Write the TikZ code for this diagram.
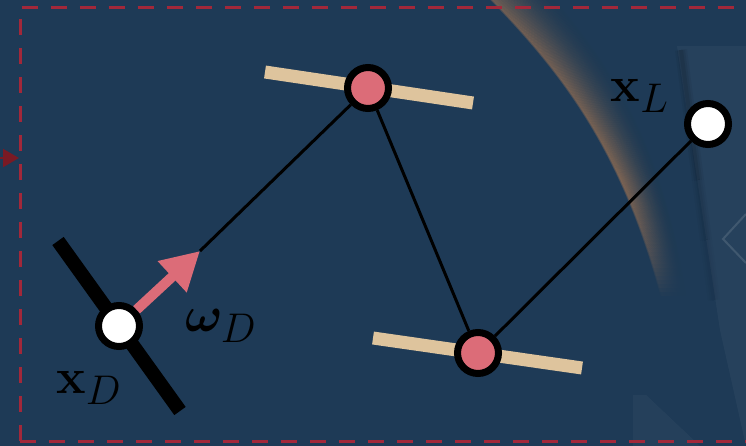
\documentclass[tikz,border=0pt]{standalone}
\usepackage{amsmath,bm}
\usetikzlibrary{arrows.meta}
\definecolor{bg}{RGB}{30,58,86}
\definecolor{dashred}{RGB}{162,40,58}
\definecolor{darkred}{RGB}{122,26,36}
\definecolor{pinkc}{RGB}{220,108,120}
\definecolor{beige}{RGB}{222,196,157}
\definecolor{glow}{RGB}{214,140,82}
\tikzset{
  joint/.style={circle, draw=black, line width=7pt, minimum size=41pt, inner sep=0pt},
  freejoint/.style={joint, fill=white},
  rotjoint/.style={joint, fill=pinkc},
  link/.style={draw=black, line width=3pt},
  bar/.style={line width=13pt},
  lab/.style={font=\fontsize{24.88}{30}\selectfont, text=black, inner sep=0pt, scale=2},
}
\begin{document}
\begin{tikzpicture}[x=1pt,y=-1pt]
\useasboundingbox (0,0) rectangle (746,446);
\clip (0,0) rectangle (746,446);
\fill[bg] (0,0) rectangle (746,446);
% background glow
\foreach \i in {0,...,49}{
  \pgfmathsetmacro{\op}{0.24*(1-\i/50)*(1-\i/50)}
  \draw[glow, line width=2pt, opacity=\op]
    (487+1.4*\i,-5) .. controls (560+1.2*\i,70) and (625+0.9*\i,150) .. (665+0.5*\i,310);
}
\foreach \k in {0,...,29}{
  \pgfmathsetmacro{\op}{((\k+1)/30)^1.3}
  \fill[bg, opacity=\op] (560,180+4*\k) rectangle (720,184+4*\k);
}
\fill[bg] (560,300) rectangle (720,330);
% right panel
\fill[white, opacity=0.04] (677,46) -- (746,46) -- (746,446) -- (720,330) -- cycle;
\foreach \w/\o in {12/0.05,8/0.06,4/0.08}{
  \draw[black, opacity=\o, line width=\w pt] (681,50) -- (698,180);
  \draw[black, opacity=0.6*\o, line width=\w pt] (698,180) -- (706,240);
  \draw[black, opacity=0.3*\o, line width=\w pt] (706,240) -- (714,300);
}
\draw[white, opacity=0.12, line width=2pt] (746,214) -- (723,239) -- (746,263);
\fill[white, opacity=0.035] (633,395) -- (646,395) -- (700,446) -- (633,446) -- cycle;
% dashed frame
\draw[dashred, line width=3pt, dash pattern=on 16pt off 13pt] (20,441) -- (20,7.5) -- (770,7.5);
\draw[dashred, line width=3pt, dash pattern=on 16pt off 13pt] (20,441) -- (770,441);
\coordinate (ain) at (-6,158);
\coordinate (aout) at (19,158);
\draw[darkred, line width=2pt, -{Triangle[length=16pt,width=18pt]}] (ain) -- (aout);
% bars
\coordinate (b1a) at (58,241); \coordinate (b1b) at (180,411);
\coordinate (b2a) at (265,72); \coordinate (b2b) at (473,103);
\coordinate (b3a) at (373,338); \coordinate (b3b) at (582,368);
\draw[bar, black, line width=14pt] (b1a) -- (b1b);
\draw[bar, beige] (b2a) -- (b2b);
\draw[bar, beige] (b3a) -- (b3b);
% joints
\node[freejoint] (xD) at (119,326) {};
\node[rotjoint] (n1) at (368,88) {};
\node[rotjoint] (n2) at (478,353) {};
\node[freejoint] (xL) at (708,124) {};
\coordinate (tip) at (200,251);
\draw[link] (tip) -- (n1);
\draw[link] (n1) -- (n2);
\draw[link] (n2) -- (xL);
\draw[pinkc, line width=10pt, -{Triangle[length=38pt,width=40pt]}] (xD) -- (tip);
% labels
\node[lab] (lxD) at (89,388) {$\mathbf{x}_D$};
\node[lab] (lwD) at (221,326) {$\bm{\omega}_D$};
\node[lab] (lxL) at (640,96) {$\mathbf{x}_L$};
\end{tikzpicture}
\end{document}
